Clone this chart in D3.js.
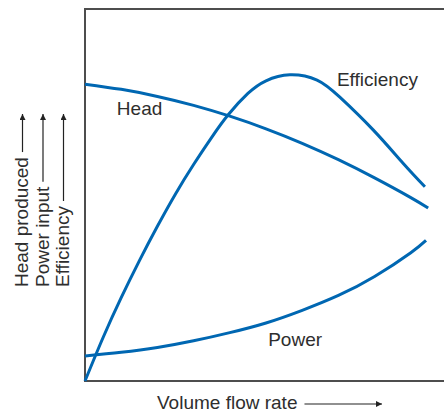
<!DOCTYPE html>
<html>
<head>
<meta charset="utf-8">
<script src="https://cdn.jsdelivr.net/npm/d3@7/dist/d3.min.js"></script>
<style>
  html, body { margin: 0; padding: 0; background: #fff; }
  svg { display: block; }
  text { font-family: "Liberation Sans", Arial, sans-serif; fill: #2e2e2e; }
</style>
</head>
<body>
<svg id="chart" width="444" height="412"></svg>
<script>
// Pump characteristic curves (relative units, flow rate 0–10)
const headFlow   = [0, 1, 2, 3, 4, 5, 6, 7, 8, 9, 9.48];
const headValues = [7.98, 7.84, 7.65, 7.41, 7.12, 6.78, 6.39, 5.95, 5.46, 4.93, 4.65];

const effFlow    = [0, 0.5, 1, 1.5, 2, 2.5, 3, 3.5, 3.95, 4.5, 5, 5.66, 6.41, 7.04, 7.96, 8.78, 9.39];
const effValues  = [0, 1.17, 2.24, 3.23, 4.16, 5.03, 5.82, 6.55, 7.15, 7.73, 8.07, 8.23, 8.09, 7.63, 6.75, 5.86, 5.22];

const powerFlow   = [0, 1, 2, 3, 4, 5, 6, 7, 8, 9, 9.42];
const powerValues = [0.67, 0.77, 0.90, 1.08, 1.30, 1.56, 1.90, 2.30, 2.81, 3.45, 3.78];

const curveNames = ["Head", "Efficiency", "Power"];
const yAxisLabels = ["Head produced", "Power input", "Efficiency"];
const xAxisLabel = "Volume flow rate";

const svg = d3.select("#chart");
const blue = "#0067b2";

const x = d3.scaleLinear().domain([0, 10]).range([85, 447]);
const y = d3.scaleLinear().domain([0, 10]).range([381, 9]);

// Frame (open to the right edge)
const frame = svg.append("g").attr("fill", "none").attr("stroke", "#4d4d4d").attr("stroke-width", 2);
frame.append("line").attr("x1", x(0)).attr("x2", x(0)).attr("y1", y(10) - 1).attr("y2", y(0) + 1);
frame.append("line").attr("x1", x(0)).attr("x2", x(10)).attr("y1", y(10)).attr("y2", y(10));
frame.append("line").attr("x1", x(0)).attr("x2", x(10)).attr("y1", y(0)).attr("y2", y(0));

const line = d3.line()
  .x(d => x(d[0]))
  .y(d => y(d[1]))
  .curve(d3.curveNatural);

const series = [
  d3.zip(headFlow, headValues),
  d3.zip(effFlow, effValues),
  d3.zip(powerFlow, powerValues)
];

svg.append("g")
  .selectAll("path")
  .data(series)
  .join("path")
  .attr("d", line)
  .attr("fill", "none")
  .attr("stroke", blue)
  .attr("stroke-width", 3)
  .attr("stroke-linecap", "butt");

// Curve names
const namePos = [[0.88, 7.15], [6.96, 7.93], [5.06, 0.94]];
svg.append("g")
  .selectAll("text")
  .data(curveNames)
  .join("text")
  .attr("x", (d, i) => x(namePos[i][0]))
  .attr("y", (d, i) => y(namePos[i][1]))
  .attr("font-size", 19)
  .text(d => d);

// Arrowhead marker
svg.append("defs").append("marker")
  .attr("id", "arrow")
  .attr("viewBox", "0 0 10 10")
  .attr("refX", 10).attr("refY", 5)
  .attr("markerWidth", 9).attr("markerHeight", 6)
  .attr("markerUnits", "userSpaceOnUse")
  .attr("orient", "auto")
  .append("path")
  .attr("d", "M0,0L10,5L0,10z")
  .attr("fill", "#222");

// Vertical axis titles, each followed by an upward arrow
const baseX = [28, 48.5, 69];
const startY = 287;
const arrowTip = 114;
yAxisLabels.forEach((label, i) => {
  const t = svg.append("text")
    .attr("transform", `translate(${baseX[i]},${startY}) rotate(-90)`)
    .attr("font-size", 19)
    .text(label);
  const len = t.node().getComputedTextLength();
  svg.append("line")
    .attr("x1", baseX[i] - 5.5).attr("x2", baseX[i] - 5.5)
    .attr("y1", startY - len - 5).attr("y2", arrowTip)
    .attr("stroke", "#222").attr("stroke-width", 1.2)
    .attr("marker-end", "url(#arrow)");
});

// Horizontal axis title with arrow
const xt = svg.append("text")
  .attr("x", 157).attr("y", 409)
  .attr("font-size", 19)
  .text(xAxisLabel);
const xlen = xt.node().getComputedTextLength();
svg.append("line")
  .attr("x1", 157 + xlen + 7).attr("x2", 382)
  .attr("y1", 404).attr("y2", 404)
  .attr("stroke", "#222").attr("stroke-width", 1.2)
  .attr("marker-end", "url(#arrow)");
</script>
</body>
</html>
